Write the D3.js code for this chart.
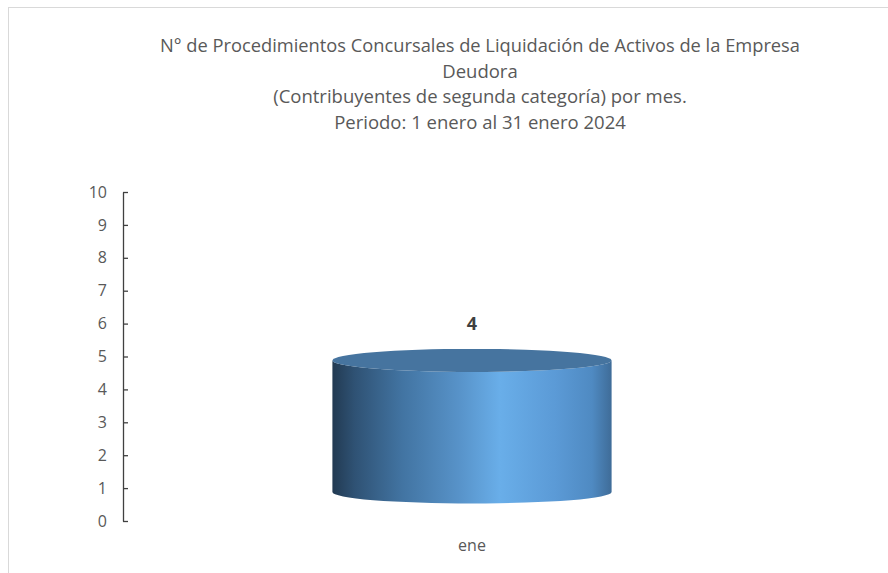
<!DOCTYPE html>
<html>
<head>
<meta charset="utf-8">
<script src="https://cdn.jsdelivr.net/npm/d3@7"></script>
<style>
  body { margin: 0; background: #fff; }
  text { font-family: "Open Sans", "Liberation Sans", sans-serif; fill: #595959; }
</style>
</head>
<body>
<svg id="chart" width="888" height="573"></svg>
<script>
var titleLines = [
  "N° de Procedimientos Concursales de Liquidación de Activos de la Empresa",
  "Deudora",
  "(Contribuyentes de segunda categoría) por mes.",
  "Periodo: 1 enero al 31 enero 2024"
];
var months = ["ene"];
var counts = [4];
var yTicks = [0, 1, 2, 3, 4, 5, 6, 7, 8, 9, 10];

var svg = d3.select("#chart");

// chart frame (only top/left visible in the picture)
svg.append("rect")
  .attr("x", 8.5).attr("y", 7.5)
  .attr("width", 900).attr("height", 600)
  .attr("fill", "none")
  .attr("stroke", "#d9d9d9");

var title = svg.append("g");
titleLines.forEach(function(t, i) {
  title.append("text")
    .attr("x", 480)
    .attr("y", 52 + i * 25.7)
    .attr("text-anchor", "middle")
    .style("font-size", "18.5px")
    .attr("textLength", i == 0 ? 640 : null)
    .attr("lengthAdjust", "spacingAndGlyphs")
    .text(t);
});

var yScale = d3.scaleLinear().domain([0, 10]).range([521, 192]);
var xScale = d3.scaleBand().domain(months).range([123, 821]).paddingInner(0.3).paddingOuter(0.525);

var yAxis = d3.axisLeft(yScale).tickValues(yTicks).tickSize(0).tickPadding(16);
var axisG = svg.append("g")
  .attr("transform", "translate(123,0)")
  .call(yAxis)
  .attr("font-size", 16)
  .attr("font-family", "'Open Sans', sans-serif");
axisG.select(".domain").attr("stroke", "#404040").attr("stroke-width", 1.3);
axisG.selectAll(".tick text").style("font-size", "16px").attr("fill", "#595959");
axisG.selectAll(".tick").append("line")
  .attr("x1", 0).attr("x2", 5)
  .attr("stroke", "#404040").attr("stroke-width", 1.3);

// 3D cylinder
var defs = svg.append("defs");
var grad = defs.append("linearGradient").attr("id", "side").attr("x1", "0%").attr("x2", "100%");
[["0%", "#223a52"], ["8%", "#2f5274"], ["25%", "#4274a2"], ["45%", "#5792c8"], ["60%", "#69aee9"],
 ["80%", "#5b9ad6"], ["93%", "#4f8ac2"], ["100%", "#3f6c98"]].forEach(function(s) {
  grad.append("stop").attr("offset", s[0]).attr("stop-color", s[1]);
});

var depthOffset = 29;
var ry = 11.5;
var bars = svg.append("g").selectAll("g")
  .data(months.map(function(m, i) { return { month: m, value: counts[i] }; }))
  .enter().append("g");

bars.each(function(d) {
  var g = d3.select(this);
  var x0 = xScale(d.month);
  var w = xScale.bandwidth();
  var rx = w / 2;
  var cx = x0 + rx;
  var yTop = yScale(d.value) - depthOffset;
  var yBot = yScale(0) - depthOffset;
  g.append("path")
    .attr("d", "M" + x0 + "," + yTop +
      " L" + x0 + "," + yBot +
      " A" + rx + "," + ry + " 0 0 0 " + (x0 + w) + "," + yBot +
      " L" + (x0 + w) + "," + yTop +
      " A" + rx + "," + ry + " 0 0 1 " + x0 + "," + yTop + " Z")
    .attr("fill", "url(#side)");
  g.append("ellipse")
    .attr("cx", cx).attr("cy", yTop)
    .attr("rx", rx).attr("ry", ry)
    .attr("fill", "#46749f");
  g.append("text")
    .attr("x", cx).attr("y", yTop - 30)
    .attr("text-anchor", "middle")
    .style("font-size", "18px")
    .style("font-weight", "bold")
    .style("fill", "#404040")
    .text(d.value);
  g.append("text")
    .attr("x", cx).attr("y", 551)
    .attr("text-anchor", "middle")
    .style("font-size", "16px")
    .text(d.month);
});
</script>
</body>
</html>
